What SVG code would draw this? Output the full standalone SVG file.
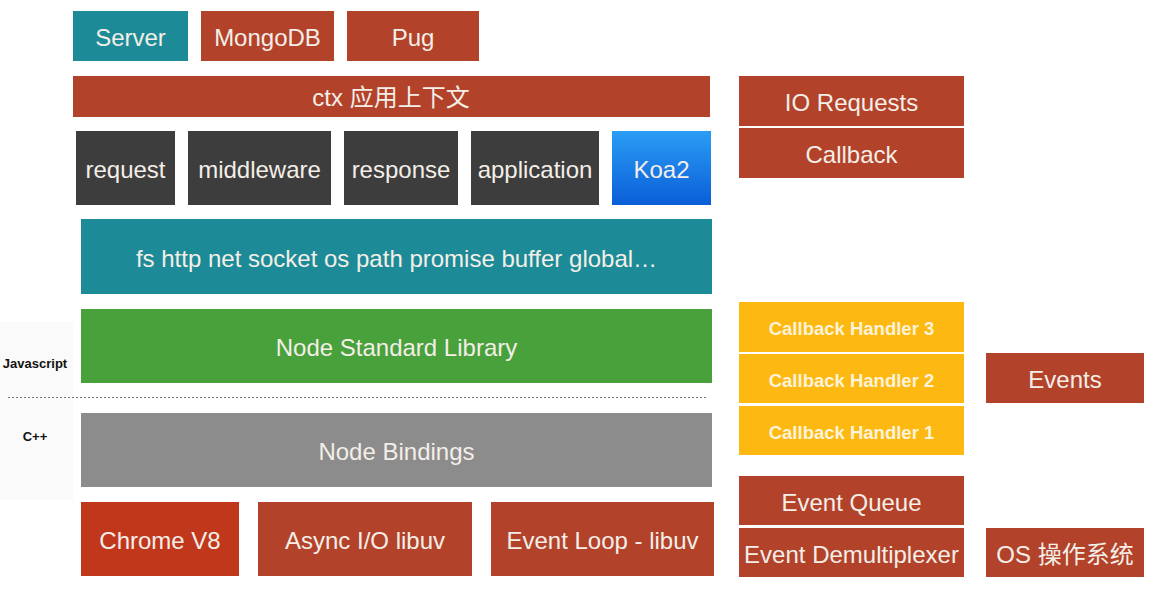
<svg xmlns="http://www.w3.org/2000/svg" width="1152" height="595" viewBox="0 0 1152 595">
<defs>
<linearGradient id="koa" x1="0" y1="0" x2="0" y2="1">
<stop offset="0" stop-color="#2a9df4"/>
<stop offset="1" stop-color="#0a5ed8"/>
</linearGradient>
<style>
.t{font-family:"Liberation Sans",Arial,sans-serif;fill:#f4eee8;text-anchor:middle;dominant-baseline:central}
.s22{font-size:24px}
.s17{font-size:18.5px;font-weight:bold}
.red{fill:#b3422a}
.teal{fill:#1c8b97}
.dark{fill:#3d3d3d}
.yel{fill:#fdb812}
.lab{font-family:"Liberation Sans",Arial,sans-serif;font-weight:bold;font-size:13px;fill:#111;text-anchor:middle;dominant-baseline:central}
</style>
</defs>
<rect width="1152" height="595" fill="#ffffff"/>
<rect x="0" y="322" width="73" height="178" fill="#fafafa"/>
<g id="server"><rect x="73" y="11" width="115" height="50" class="teal"/><text x="130.5" y="37" class="t s22">Server</text></g>
<g id="mongodb"><rect x="201" y="11" width="133" height="50" class="red"/><text x="267.5" y="37" class="t s22">MongoDB</text></g>
<g id="pug"><rect x="347" y="11" width="132" height="50" class="red"/><text x="413" y="37" class="t s22">Pug</text></g>
<g id="ctx"><rect x="73" y="76" width="637" height="41" class="red"/><text x="391" y="97" class="t s22" style="font-family:'Liberation Sans','Noto Sans CJK SC',sans-serif">ctx 应用上下文</text></g>
<g id="request"><rect x="76" y="131" width="99" height="74" class="dark"/><text x="125.5" y="169" class="t s22">request</text></g>
<g id="middleware"><rect x="188" y="131" width="143" height="74" class="dark"/><text x="259.5" y="169" class="t s22">middleware</text></g>
<g id="response"><rect x="344" y="131" width="114" height="74" class="dark"/><text x="401" y="169" class="t s22">response</text></g>
<g id="application"><rect x="471" y="131" width="128" height="74" class="dark"/><text x="535" y="169" class="t s22">application</text></g>
<g id="koa2"><rect x="612" y="131" width="99" height="74" fill="url(#koa)"/><text x="661.5" y="169" class="t s22">Koa2</text></g>
<g id="modules"><rect x="81" y="219" width="631" height="75" class="teal"/><text x="396.5" y="258" class="t s22">fs http net socket os path promise buffer global…</text></g>
<g id="stdlib"><rect x="81" y="309" width="631" height="74" fill="#48a13b"/><text x="396.5" y="347" class="t s22">Node Standard Library</text></g>
<g id="bindings"><rect x="81" y="413" width="631" height="74" fill="#8c8c8c"/><text x="396.5" y="451" class="t s22">Node Bindings</text></g>
<g id="v8"><rect x="81" y="502" width="158" height="74" fill="#c0371c"/><text x="160" y="540" class="t s22">Chrome V8</text></g>
<g id="asyncio"><rect x="258" y="502" width="214" height="74" class="red"/><text x="365" y="540" class="t s22">Async I/O libuv</text></g>
<g id="eventloop"><rect x="491" y="502" width="223" height="74" class="red"/><text x="602.5" y="540" class="t s22">Event Loop - libuv</text></g>
<g id="iorequests"><rect x="739" y="76" width="225" height="50" class="red"/><text x="851.5" y="102" class="t s22">IO Requests</text></g>
<g id="callback"><rect x="739" y="128" width="225" height="50" class="red"/><text x="851.5" y="154" class="t s22">Callback</text></g>
<g id="handler3"><rect x="739" y="302" width="225" height="50" class="yel"/><text x="851.5" y="328" class="t s17" style="fill:#fdf3d8">Callback Handler 3</text></g>
<g id="handler2"><rect x="739" y="354" width="225" height="49" class="yel"/><text x="851.5" y="380" class="t s17" style="fill:#fdf3d8">Callback Handler 2</text></g>
<g id="handler1"><rect x="739" y="406" width="225" height="49" class="yel"/><text x="851.5" y="432" class="t s17" style="fill:#fdf3d8">Callback Handler 1</text></g>
<g id="events"><rect x="986" y="353" width="158" height="50" class="red"/><text x="1065" y="379" class="t s22">Events</text></g>
<g id="eventqueue"><rect x="739" y="476" width="225" height="49" class="red"/><text x="851.5" y="502" class="t s22">Event Queue</text></g>
<g id="demux"><rect x="739" y="528" width="225" height="49" class="red"/><text x="851.5" y="554" class="t s22">Event Demultiplexer</text></g>
<g id="os"><rect x="986" y="528" width="158" height="49" class="red"/><text x="1065" y="554" class="t s22" style="font-family:'Liberation Sans','Noto Sans CJK SC',sans-serif">OS 操作系统</text></g>
<g id="layers">
<text x="35" y="363" class="lab">Javascript</text>
<text x="35" y="436" class="lab">C++</text>
</g>
<g id="connectors">
<line x1="8" y1="397.5" x2="708" y2="397.5" stroke="#777" stroke-width="1" stroke-dasharray="2,2"/>
</g>
</svg>
